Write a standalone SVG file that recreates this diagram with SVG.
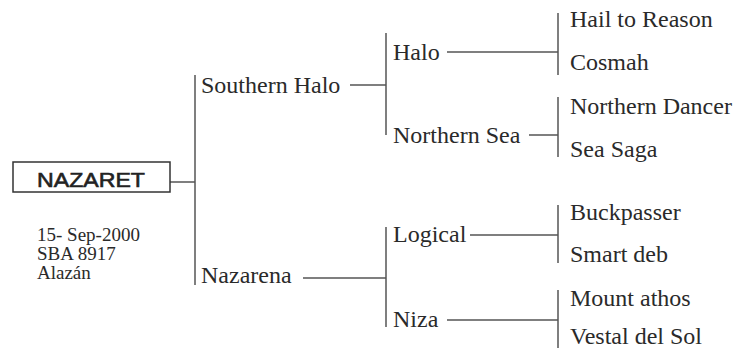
<svg xmlns="http://www.w3.org/2000/svg" width="740" height="350" viewBox="0 0 740 350">
<style>
.t{font-family:"Liberation Serif","Times New Roman",serif;font-size:24px;fill:#2a2a2a}
.s{font-family:"Liberation Serif","Times New Roman",serif;font-size:19px;fill:#2a2a2a}
.c line{stroke:#555;stroke-width:1.5}
</style>
<rect width="740" height="350" fill="#fff"/>
<g class="c" id="connectors">
<line x1="170" y1="182" x2="195" y2="182"/>
<line x1="195" y1="75" x2="195" y2="285"/>
<line x1="350" y1="85" x2="386" y2="85"/>
<line x1="386" y1="33" x2="386" y2="135"/>
<line x1="303" y1="278" x2="386" y2="278"/>
<line x1="386" y1="227" x2="386" y2="327"/>
<line x1="447" y1="52" x2="558" y2="52"/>
<line x1="558" y1="13" x2="558" y2="75"/>
<line x1="529" y1="135" x2="558" y2="135"/>
<line x1="558" y1="97" x2="558" y2="157"/>
<line x1="470" y1="235" x2="558" y2="235"/>
<line x1="558" y1="205" x2="558" y2="263"/>
<line x1="447" y1="320" x2="558" y2="320"/>
<line x1="558" y1="290" x2="558" y2="348"/>
</g>
<g id="nazaret">
<rect x="13" y="162" width="157" height="30" fill="#fff" stroke="#333" stroke-width="1.5"/>
<text x="37" y="187" font-family="'Liberation Sans',Arial,sans-serif" font-size="21" fill="#222" stroke="#222" stroke-width="0.6" textLength="108" lengthAdjust="spacingAndGlyphs">NAZARET</text>
</g>
<g id="info">
<text class="s" x="37" y="241">15- Sep-2000</text>
<text class="s" x="37" y="260">SBA 8917</text>
<text class="s" x="37" y="279">Alazán</text>
</g>
<g id="southern-halo"><text class="t" x="201" y="93">Southern Halo</text></g>
<g id="nazarena"><text class="t" x="201" y="283">Nazarena</text></g>
<g id="halo"><text class="t" x="393" y="60">Halo</text></g>
<g id="northern-sea"><text class="t" x="393" y="143">Northern Sea</text></g>
<g id="logical"><text class="t" x="393" y="242">Logical</text></g>
<g id="niza"><text class="t" x="393" y="327">Niza</text></g>
<g id="hail-to-reason"><text class="t" x="570" y="27">Hail to Reason</text></g>
<g id="cosmah"><text class="t" x="570" y="70">Cosmah</text></g>
<g id="northern-dancer"><text class="t" x="570" y="114">Northern Dancer</text></g>
<g id="sea-saga"><text class="t" x="570" y="157">Sea Saga</text></g>
<g id="buckpasser"><text class="t" x="570" y="220">Buckpasser</text></g>
<g id="smart-deb"><text class="t" x="570" y="262">Smart deb</text></g>
<g id="mount-athos"><text class="t" x="570" y="306">Mount athos</text></g>
<g id="vestal-del-sol"><text class="t" x="570" y="344">Vestal del Sol</text></g>
</svg>
